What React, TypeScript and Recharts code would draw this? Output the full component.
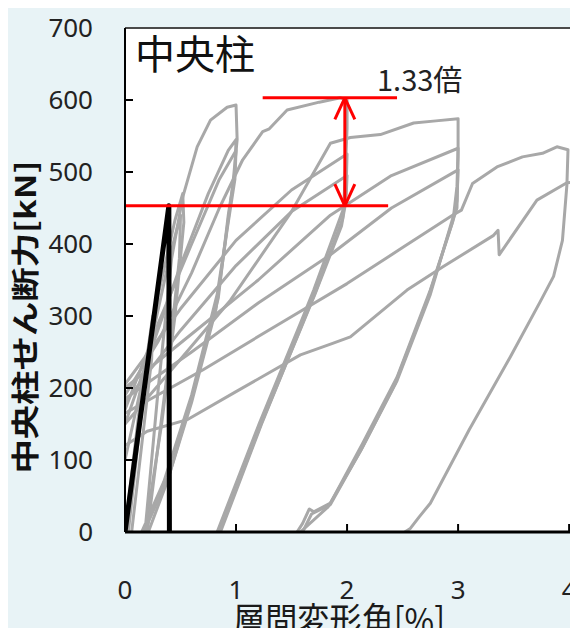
import React from 'react';
import { LineChart, Line, XAxis, YAxis, ReferenceLine, CartesianGrid } from 'recharts';

// Storey drift angle [%] vs. centre-column shear force [kN]
type Pt = { x: number; y: number };
const toPts = (pairs: number[][]): Pt[] => pairs.map(([x, y]) => ({ x, y }));

const xTicks = [0, 1, 2, 3, 4];
const yTicks = [0, 100, 200, 300, 400, 500, 600, 700];

// Small-amplitude cycles
const cycle025 = [[0, 0], [0.12, 160], [0.25, 300], [0.24, 240], [0.12, 80], [0.06, 0]];
const cycle05a = [[0.03, 0], [0.15, 170], [0.3, 330], [0.45, 433], [0.52, 470], [0.53, 430], [0.45, 300], [0.33, 150], [0.18, 0]];
const cycle05b = [[0, 100], [0.2, 240], [0.4, 380], [0.5, 440], [0.49, 380], [0.38, 220], [0.2, 0]];

// 1 % cycles
const cycle1a = [[0.18, 0], [0.3, 200], [0.42, 380], [0.52, 465], [0.65, 535], [0.77, 572], [0.92, 590], [1.0, 593], [1.01, 545], [0.97, 480], [0.9, 400], [0.83, 330], [0.6, 190], [0.35, 70], [0.15, 0]];
const cycle1b = [[0, 150], [0.25, 260], [0.5, 370], [0.75, 470], [0.93, 530], [1.0, 545], [0.99, 500], [0.93, 440], [0.84, 325], [0.6, 185], [0.4, 80], [0.17, 0]];
const cycle1c = [[0, 170], [0.3, 290], [0.6, 400], [0.85, 490], [1.0, 530], [0.99, 490], [0.92, 420], [0.82, 310], [0.6, 180], [0.38, 70], [0.21, 0]];

// 2 % cycles
const cycle2a = [[0, 190], [0.3, 265], [0.6, 360], [0.85, 450], [1.06, 517], [1.24, 556], [1.3, 560], [1.46, 586], [1.75, 597], [1.94, 603], [2.0, 600], [2.0, 560], [1.97, 450], [1.7, 336], [1.58, 290], [1.21, 151], [0.83, 0]];
const cycle2b = [[0, 205], [0.5, 310], [1.0, 405], [1.5, 475], [2.0, 525], [1.99, 470], [1.96, 435], [1.72, 335], [1.6, 290], [1.23, 150], [0.86, 0]];
const cycle2c = [[0, 180], [0.5, 280], [1.0, 370], [1.5, 445], [2.0, 495], [1.99, 460], [1.95, 425], [1.71, 330], [1.59, 285], [1.22, 148], [0.85, 0]];

// 3 % cycles
const cycle3a = [[0, 150], [0.5, 240], [0.95, 322], [1.5, 445], [1.85, 540], [2.03, 548], [2.3, 552], [2.6, 568], [2.8, 571], [3.0, 574], [3.0, 520], [2.99, 450], [2.75, 336], [2.45, 215], [2.14, 123], [1.85, 40], [1.7, 28], [1.66, 32], [1.6, 12], [1.55, 0]];
const cycle3b = [[0, 200], [0.6, 275], [1.2, 350], [1.85, 440], [2.4, 495], [3.0, 533], [2.99, 480], [2.96, 440], [2.75, 330], [2.45, 210], [2.14, 118], [1.85, 38], [1.68, 25], [1.6, 0]];
const cycle3c = [[0, 185], [0.6, 250], [1.2, 318], [1.85, 385], [2.4, 450], [3.0, 503], [2.99, 460], [2.95, 430], [2.73, 325], [2.43, 205], [2.12, 112], [1.83, 35], [1.58, 0]];

// 4 % cycle
const cycle4a = [[0, 165], [0.7, 225], [1.4, 290], [2.0, 345], [2.5, 395], [2.95, 440], [3.03, 447], [3.13, 484], [3.35, 507], [3.58, 521], [3.76, 526], [3.89, 535], [3.99, 531], [3.98, 482], [3.94, 405], [3.86, 355], [3.74, 320], [3.47, 243], [3.1, 142], [2.75, 40], [2.65, 21], [2.57, 5], [2.52, 0]];

// Final loading beyond 4 %
const cycleFinal = [[0, 120], [0.2, 140], [0.56, 156], [1.0, 195], [1.58, 246], [1.87, 262], [2.03, 271], [2.54, 336], [2.86, 368], [3.32, 412], [3.36, 419], [3.37, 385], [3.71, 461], [3.98, 485], [4.08, 486]];

const greyLoops = [
  cycle025, cycle05a, cycle05b,
  cycle1a, cycle1b, cycle1c,
  cycle2a, cycle2b, cycle2c,
  cycle3a, cycle3b, cycle3c,
  cycle4a, cycleFinal,
].map(toPts);

// Reference loads for the strength-ratio annotation
const peakLoad = 603;
const baseLoad = 453;
const peakLineX = [1.24, 2.45];
const baseLineX = [0, 2.37];
const arrowX = 1.98;
const headDx = 0.09;
const headDy = 30;

// Elastic backbone (black)
const elasticLine = toPts([[0, 0], [0.395, baseLoad], [0.4, 0]]);

const ratioText = `${(peakLoad / baseLoad).toFixed(2)}倍`;

const TICK_FONT = "'Noto Sans', 'Open Sans', sans-serif";
const CJK_FONT = "'Noto Sans CJK JP', 'Noto Sans CJK SC', sans-serif";

const Y_MARGIN = 32;
const X_MARGIN = 67;

const YTick = (props: any) => {
  const { x, y, payload } = props;
  const v = payload.value;
  const axisX = x + Y_MARGIN;
  return (
    <g>
      {v > 0 && v < 700 && <line x1={axisX} x2={axisX + 8} y1={y} y2={y} stroke="#000" strokeWidth={2} />}
      <text x={x} y={y} dy={9} textAnchor="end" fontFamily={TICK_FONT} fontSize={26} fill="#222">
        {v}
      </text>
    </g>
  );
};

const XTick = (props: any) => {
  const { x, y, payload } = props;
  const v = payload.value;
  const axisY = y - X_MARGIN;
  return (
    <g>
      {v > 0 && <line x1={x} x2={x} y1={axisY} y2={axisY - 8} stroke="#000" strokeWidth={2} />}
      <text x={x} y={y} textAnchor="middle" fontFamily={TICK_FONT} fontSize={26} fill="#222">
        {v}
      </text>
    </g>
  );
};

const RED = '#FF0000';

export default function App() {
  return (
    <div style={{ position: 'relative', width: 578, height: 636, margin: -8, background: '#E8F3F6', overflow: 'hidden' }}>
      <LineChart width={578} height={636} margin={{ top: 28, right: 0, bottom: 0, left: 0 }}>
        <CartesianGrid horizontal={false} vertical={false} fill="#FFFFFF" />
        <XAxis
          type="number"
          dataKey="x"
          domain={[0, 4.08]}
          ticks={xTicks}
          interval={0}
          allowDataOverflow
          height={104}
          tickSize={0}
          tickMargin={X_MARGIN}
          tickLine={false}
          tick={<XTick />}
          axisLine={{ stroke: '#000', strokeWidth: 3 }}
        />
        <YAxis
          type="number"
          dataKey="y"
          domain={[0, 700]}
          ticks={yTicks}
          interval={0}
          allowDataOverflow
          width={125}
          tickSize={0}
          tickMargin={Y_MARGIN}
          tickLine={false}
          tick={<YTick />}
          axisLine={{ stroke: '#000', strokeWidth: 2 }}
        />
        <ReferenceLine y={700} stroke="#4a4a4a" strokeWidth={2} />
        {greyLoops.map((d, i) => (
          <Line
            key={i}
            data={d}
            dataKey="y"
            type="linear"
            stroke="#A8A8A8"
            strokeWidth={3}
            strokeLinejoin="round"
            dot={false}
            activeDot={false}
            isAnimationActive={false}
          />
        ))}
        <Line
          data={elasticLine}
          dataKey="y"
          type="linear"
          stroke="#000"
          strokeWidth={5}
          strokeLinejoin="round"
          dot={false}
          activeDot={false}
          isAnimationActive={false}
        />
        <ReferenceLine segment={[{ x: peakLineX[0], y: peakLoad }, { x: peakLineX[1], y: peakLoad }]} stroke={RED} strokeWidth={3} />
        <ReferenceLine segment={[{ x: baseLineX[0], y: baseLoad }, { x: baseLineX[1], y: baseLoad }]} stroke={RED} strokeWidth={3} />
        <ReferenceLine segment={[{ x: arrowX, y: peakLoad }, { x: arrowX, y: baseLoad }]} stroke={RED} strokeWidth={3} />
        <ReferenceLine segment={[{ x: arrowX - headDx, y: peakLoad - headDy }, { x: arrowX, y: peakLoad }]} stroke={RED} strokeWidth={3} />
        <ReferenceLine segment={[{ x: arrowX + headDx, y: peakLoad - headDy }, { x: arrowX, y: peakLoad }]} stroke={RED} strokeWidth={3} />
        <ReferenceLine segment={[{ x: arrowX - headDx, y: baseLoad + headDy }, { x: arrowX, y: baseLoad }]} stroke={RED} strokeWidth={3} />
        <ReferenceLine segment={[{ x: arrowX + headDx, y: baseLoad + headDy }, { x: arrowX, y: baseLoad }]} stroke={RED} strokeWidth={3} />
      </LineChart>
      <svg width={578} height={636} style={{ position: 'absolute', left: 0, top: 0, pointerEvents: 'none' }}>
        <text x={135} y={69} fontFamily={CJK_FONT} fontSize={40} fill="#111">中央柱</text>
        <text x={377} y={91} fontFamily={CJK_FONT} fontSize={29} fill="#222">{ratioText}</text>
        <text
          x={36}
          y={317}
          transform="rotate(-90 36 317)"
          textAnchor="middle"
          fontFamily={CJK_FONT}
          fontSize={28}
          fontWeight="bold"
          fill="#111"
          textLength={313}
          lengthAdjust="spacingAndGlyphs"
        >
          中央柱せん断力[kN]
        </text>
        <text
          x={233}
          y={634}
          fontFamily={CJK_FONT}
          fontSize={36}
          fill="#1a1a1a"
          textLength={212}
          lengthAdjust="spacingAndGlyphs"
        >
          層間変形角[%]
        </text>
      </svg>
    </div>
  );
}
